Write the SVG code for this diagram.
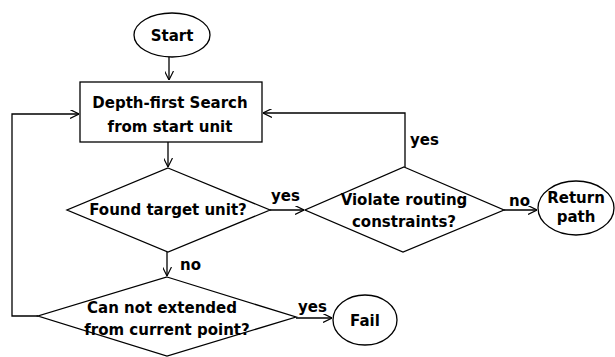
<svg xmlns="http://www.w3.org/2000/svg" width="615" height="357" viewBox="0 0 615 357">
<defs>
<marker id="ah" viewBox="0 0 10 10" refX="10" refY="5" markerWidth="9" markerHeight="9" markerUnits="userSpaceOnUse" orient="auto">
<path d="M0,0 L10,5 L0,10" fill="none" stroke="#000" stroke-width="1.3"/>
</marker>
<style>
.s{fill:#fff;stroke:#000;stroke-width:1.3}
.t{font-family:"DejaVu Sans",Verdana,sans-serif;font-weight:bold;font-size:15px;fill:#000;text-anchor:middle}
.l{font-family:"DejaVu Sans",Verdana,sans-serif;font-weight:bold;font-size:15px;fill:#000}
.c{fill:none;stroke:#000;stroke-width:1.3}
</style>
</defs>
<rect width="615" height="357" fill="#fff"/>
<g id="connectors">
<path class="c" d="M169,57 V80" marker-end="url(#ah)"/>
<path class="c" d="M168,142 V167" marker-end="url(#ah)"/>
<path class="c" d="M270,210 H304" marker-end="url(#ah)"/>
<path class="c" d="M504,210 H537" marker-end="url(#ah)"/>
<path class="c" d="M405,167 V113 H263" marker-end="url(#ah)"/>
<path class="c" d="M167,252 V276" marker-end="url(#ah)"/>
<path class="c" d="M38,316 H12 V114 H79" marker-end="url(#ah)"/>
<path class="c" d="M296,318 H332" marker-end="url(#ah)"/>
<text class="l" x="410" y="145">yes</text>
<text class="l" x="271" y="201">yes</text>
<text class="l" x="509" y="206">no</text>
<text class="l" x="180" y="270">no</text>
<text class="l" x="298" y="312">yes</text>
</g>
<g id="start">
<ellipse class="s" cx="172" cy="35" rx="38" ry="22"/>
<text class="t" x="172" y="41">Start</text>
</g>
<g id="dfs">
<rect class="s" x="80" y="82" width="182" height="60"/>
<text class="t" x="170" y="108">Depth-first Search</text>
<text class="t" x="170" y="132">from start unit</text>
</g>
<g id="found">
<polygon class="s" points="168,168 270,210 168,252 67,210"/>
<text class="t" x="168" y="215">Found target unit?</text>
</g>
<g id="violate">
<polygon class="s" points="404,167 504,210 403,252 305,210"/>
<text class="t" x="404" y="205">Violate routing</text>
<text class="t" x="404" y="227">constraints?</text>
</g>
<g id="return">
<ellipse class="s" cx="576" cy="208" rx="38" ry="27"/>
<text class="t" x="576" y="203">Return</text>
<text class="t" x="576" y="222">path</text>
</g>
<g id="cannot">
<polygon class="s" points="167,277 296,317 167,356 38,316"/>
<text class="t" x="162" y="313">Can not extended</text>
<text class="t" x="167" y="335">from current point?</text>
</g>
<g id="fail">
<ellipse class="s" cx="365" cy="320" rx="32" ry="25"/>
<text class="t" x="365" y="326">Fail</text>
</g>
</svg>
